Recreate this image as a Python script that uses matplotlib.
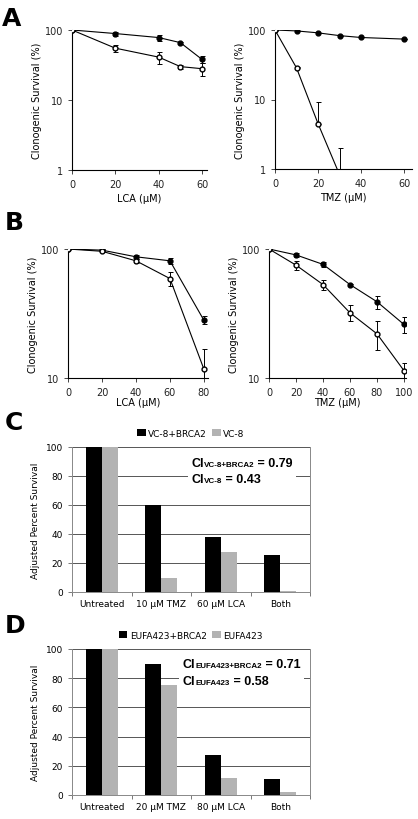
import numpy as np
import matplotlib
matplotlib.use("Agg")
import matplotlib.pyplot as plt
from matplotlib.offsetbox import TextArea, HPacker, VPacker, AnnotationBbox
from matplotlib.ticker import FixedLocator, NullLocator, FixedFormatter

plt.rcParams['font.family'] = ['DejaVu Sans']

# ---- panel A (log survival curves)
a_lca_x = [0, 20, 40, 50, 60]
a_lca_fill = [100, 89, 78, 66, 38]
a_lca_fill_err = [0, 6, 8, 2, 4]
a_lca_open = [100, 55, 41, 30, 28]
a_lca_open_err = [0, 6, 8, 2, 6]

a_tmz_x = [0, 10, 20, 30, 40, 60]
a_tmz_fill = [100, 97, 91, 83, 78, 74]
a_tmz_fill_err = [0, 0, 0, 0, 0, 0]
a_tmz_open = [100, 28.5, 4.5, 0.83, None, None]
a_tmz_open_up = [0, 1, 4.6, 1.2, 0, 0]

# ---- panel B
b_lca_x = [0, 20, 40, 60, 80]
b_lca_fill = [100, 98, 87, 81, 28]
b_lca_fill_err = [0, 2, 3, 4, 2]
b_lca_open = [100, 96, 81, 59, 11.7]
b_lca_open_err = [0, 2, 3, 7, 5]

b_tmz_x = [0, 20, 40, 60, 80, 100]
b_tmz_fill = [100, 90, 76, 53, 39, 26]
b_tmz_fill_err = [0, 3, 3, 1, 4.5, 3.5]
b_tmz_open = [100, 75, 53, 32, 22, 11.4]
b_tmz_open_err = [0, 6, 5, 4.5, 5.5, 1.6]

# ---- panels C, D (bars)
c_cats = ["Untreated", "10 \u00b5M TMZ", "60 \u00b5M LCA", "Both"]
c_black = [100, 60, 38, 25.5]
c_grey = [100, 10, 27.5, 1]
c_names = ["VC-8+BRCA2", "VC-8"]
c_ci = [("VC-8+BRCA2", "0.79"), ("VC-8", "0.43")]

d_cats = ["Untreated", "20 \u00b5M TMZ", "80 \u00b5M LCA", "Both"]
d_black = [100, 90, 27.5, 11]
d_grey = [100, 75.5, 11.5, 2]
d_names = ["EUFA423+BRCA2", "EUFA423"]
d_ci = [("EUFA423+BRCA2", "0.71"), ("EUFA423", "0.58")]

W, H = 418, 820
fig = plt.figure(figsize=(W / 100, H / 100), dpi=100)


def add_ax(left, right, top, bottom):
    return fig.add_axes([left / W, 1 - bottom / H, (right - left) / W, (bottom - top) / H])


def survival(ax, x, yf, ef, yo, eo, xlim, xticks, ylim, yticks, xlabel, open_up=None):
    ax.set_yscale('log')
    ax.errorbar(x, yf, yerr=ef, color='black', marker='o', ms=3.5, mfc='black',
                lw=0.8, elinewidth=0.7, capsize=1.8, capthick=0.7, zorder=3)
    if open_up is None:
        ax.errorbar(x, yo, yerr=eo, color='black', marker='o', ms=3.5, mfc='white',
                    lw=0.8, elinewidth=0.7, capsize=1.8, capthick=0.7, zorder=4)
    else:
        xx = [a for a, b in zip(x, yo) if b is not None]
        yy = [b for b in yo if b is not None]
        up = open_up[:len(yy)]
        ax.errorbar(xx, yy, yerr=[[0] * len(yy), up], color='black', marker='o', ms=3.5,
                    mfc='white', lw=0.8, elinewidth=0.7, capsize=1.8, capthick=0.7, zorder=4)
    ax.set_xlim(*xlim)
    ax.set_ylim(*ylim)
    ax.xaxis.set_major_locator(FixedLocator(xticks))
    ax.yaxis.set_major_locator(FixedLocator(yticks))
    ax.yaxis.set_major_formatter(FixedFormatter([str(t) for t in yticks]))
    ax.yaxis.set_minor_locator(NullLocator())
    for s in ['top', 'right']:
        ax.spines[s].set_visible(False)
    for s in ['left', 'bottom']:
        ax.spines[s].set_linewidth(0.8)
    ax.tick_params(labelsize=7, length=3, width=0.7, color='#444444', labelcolor='#222222')
    ax.set_xlabel(xlabel, fontsize=7, labelpad=3)
    ax.set_ylabel("Clonogenic Survival (%)", fontsize=7, labelpad=2)


ax = add_ax(72, 207, 31, 171)
survival(ax, a_lca_x, a_lca_fill, a_lca_fill_err, a_lca_open, a_lca_open_err,
         (0, 62.3), [0, 20, 40, 60], (1, 100), [1, 10, 100], "LCA (\u00b5M)")
ax = add_ax(275, 412, 31, 170)
survival(ax, a_tmz_x, a_tmz_fill, a_tmz_fill_err, a_tmz_open, None,
         (0, 63.7), [0, 20, 40, 60], (1, 100), [1, 10, 100], "TMZ (\u00b5M)", open_up=a_tmz_open_up)
ax = add_ax(68, 208, 250, 379)
survival(ax, b_lca_x, b_lca_fill, b_lca_fill_err, b_lca_open, b_lca_open_err,
         (0, 82.4), [0, 20, 40, 60, 80], (10, 100), [10, 100], "LCA (\u00b5M)")
ax.xaxis.labelpad = 0
ax = add_ax(269, 406, 250, 379)
survival(ax, b_tmz_x, b_tmz_fill, b_tmz_fill_err, b_tmz_open, b_tmz_open_err,
         (0, 101.5), [0, 20, 40, 60, 80, 100], (10, 100), [10, 100], "TMZ (\u00b5M)")
ax.xaxis.labelpad = 0


def bars(ax, cats, black, grey, names, ci, ci_xy):
    x = np.arange(len(cats))
    w = 0.27
    ax.bar(x - w / 2, black, w, color='black', label=names[0], zorder=3)
    ax.bar(x + w / 2, grey, w, color='#b3b3b3', label=names[1], zorder=3)
    ax.set_xlim(-0.5, len(cats) - 0.5)
    ax.set_ylim(0, 100)
    ax.set_yticks([0, 20, 40, 60, 80, 100])
    ax.yaxis.grid(True, color='#555555', lw=0.7, zorder=0)
    ax.set_axisbelow(True)
    ax.set_xticks(x)
    ax.set_xticklabels(cats)
    ax.set_xticks(np.arange(len(cats) + 1) - 0.5, minor=True)
    ax.tick_params(axis='x', which='major', length=0, labelsize=6.5, pad=5)
    ax.tick_params(axis='x', which='minor', length=3, width=0.7, color='#777777')
    ax.tick_params(axis='y', labelsize=6.5, length=3, width=0.7, color='#777777')
    ax.spines['top'].set_visible(False)
    for s in ['left', 'right', 'bottom']:
        ax.spines[s].set_color('#888888')
        ax.spines[s].set_linewidth(0.7)
    ax.set_ylabel("Adjusted Percent Survival", fontsize=6.5, labelpad=4)
    ax.legend(loc='lower center', bbox_to_anchor=(0.5, 1.065), ncol=2, frameon=False,
              fontsize=6.5, handlelength=0.9, handleheight=0.9, handletextpad=0.3,
              columnspacing=0.6, borderpad=0, borderaxespad=0)
    rows = []
    for small, val in ci:
        parts = [TextArea("CI", textprops=dict(size=9, weight='bold', family='Liberation Sans')),
                 TextArea(small, textprops=dict(size=5.8, weight='bold', family='Liberation Sans')),
                 TextArea(" = " + val, textprops=dict(size=9, weight='bold', family='Liberation Sans'))]
        rows.append(HPacker(children=parts, align='baseline', pad=0, sep=0))
    box = VPacker(children=rows, align='left', pad=0, sep=3)
    ab = AnnotationBbox(box, ci_xy, xycoords='axes fraction', box_alignment=(0, 1),
                        frameon=True, pad=0.25, bboxprops=dict(fc='white', ec='none'), zorder=5)
    ax.add_artist(ab)


ax = add_ax(72, 310, 448, 593)
bars(ax, c_cats, c_black, c_grey, c_names, c_ci, (0.5, 0.93))
ax = add_ax(72, 310, 650, 796)
bars(ax, d_cats, d_black, d_grey, d_names, d_ci, (0.465, 0.935))

for lab, (px, py) in zip("ABCD", [(2, 26), (5, 230), (5, 430), (5, 633)]):
    fig.text(px / W, 1 - py / H, lab, fontsize=18, weight='bold', ha='left', va='baseline')

fig.savefig("out.png", dpi=100)
